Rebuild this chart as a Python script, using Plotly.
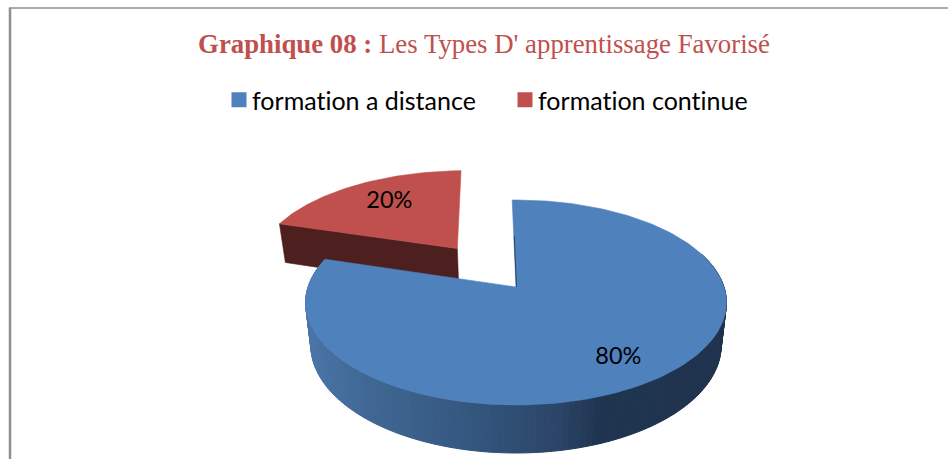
import math
import plotly.graph_objects as go

categories = ["formation a distance", "formation continue"]
shares = [80, 20]
labels = ["80%", "20%"]
colors = ["#4f81bd", "#c0504d"]
title_bold = "Graphique 08 :"
title_rest = "Les Types D' apprentissage Favorisé"

W, H = 948, 459
X0, R, TILT_C, TILT_A, Y0 = 516.0, 208.0, 0.151, -56.8, 287.0
START = -1.2
EXPLODE = 0.512
RED_NUDGE = 0.01
BOT_X, BOT_A, BOT_B = 0.975, 27.0, 1.052


def top(u, v):
    w = 1 + TILT_C * v
    return X0 + R * u / w, (TILT_A * v + Y0) / w


def bot(u, v):
    x, y = top(u, v)
    return X0 + (x - X0) * BOT_X, BOT_A + BOT_B * y


def rim(theta, off=(0.0, 0.0), rho=1.0):
    t = math.radians(theta)
    return off[0] + rho * math.sin(t), off[1] + rho * math.cos(t)


def poly(pts, color, lw=0.6):
    return go.Scatter(x=[p[0] for p in pts] + [pts[0][0]], y=[p[1] for p in pts] + [pts[0][1]],
                      mode="lines", fill="toself", fillcolor=color,
                      line=dict(color=color, width=lw), showlegend=False, hoverinfo="skip")


def side_color(x):
    stops = [(305, (0x4c, 0x76, 0xab)), (370, (0x41, 0x68, 0x95)), (470, (0x34, 0x58, 0x80)),
             (560, (0x2c, 0x45, 0x68)), (600, (0x20, 0x35, 0x50)), (730, (0x1f, 0x33, 0x4e))]
    for (a, ca), (b, cb) in zip(stops, stops[1:]):
        if x <= b:
            f = max(0, (x - a) / (b - a))
            return "rgb(%d,%d,%d)" % tuple(ca[i] + (cb[i] - ca[i]) * f for i in range(3))
    return "rgb(31,51,78)"


blue_span = shares[0] / sum(shares) * 360
red_span = shares[1] / sum(shares) * 360
blue_a, blue_b = START, START + blue_span
red_a, red_b = blue_b, blue_b + red_span
mid = math.radians((red_a + red_b) / 2)
off = (EXPLODE * math.sin(mid) + RED_NUDGE, EXPLODE * math.cos(mid))

fig = go.Figure()

# red slice: cut face, then top
tip = off
left = rim(red_a, off)
fig.add_trace(poly([top(*tip), top(*left), bot(*left), bot(*tip)], "#4d1f1e"))
arc = [top(*rim(red_a + red_span * i / 60, off)) for i in range(61)]
fig.add_trace(poly([top(*tip)] + arc, colors[1]))

# blue slice: outer wall strips, then top
N = 140
a0, a1 = 70.0, blue_b
for i in range(N):
    t0 = a0 + (a1 - a0) * i / N
    t1 = a0 + (a1 - a0) * (i + 1) / N
    p0, p1 = rim(t0), rim(t1)
    q = [top(*p0), top(*p1), bot(*p1), bot(*p0)]
    fig.add_trace(poly(q, side_color(bot(*p0)[0]), 1))
arc = [top(*rim(blue_a + blue_span * i / 200)) for i in range(201)]
fig.add_trace(poly([top(0, 0)] + arc, colors[0]))

# thin dark edge of the first cut
e0, e1 = top(*rim(blue_a, rho=0.55)), top(0, 0)
fig.add_trace(go.Scatter(x=[e0[0] + 0.5, e1[0] + 0.5], y=[e0[1], e1[1]], mode="lines",
                         line=dict(color="#2c4568", width=1), showlegend=False, hoverinfo="skip"))

# legend entries
for name, c in zip(categories, colors):
    fig.add_trace(go.Scatter(x=[None], y=[None], mode="markers", name=name,
                             marker=dict(symbol="square", size=15, color=c)))

# value labels
lab_blue = top(*rim(blue_a + blue_span * 0.509, rho=0.782))
lab_red = top(*rim(red_a + red_span * 0.527, off, rho=0.69))
fig.add_trace(go.Scatter(x=[lab_blue[0], lab_red[0]], y=[lab_blue[1], lab_red[1]], mode="text",
                         text=labels, textposition="middle center",
                         textfont=dict(family="Lato", size=23.5, color="#000000"),
                         showlegend=False, hoverinfo="skip"))

fig.update_layout(
    width=W, height=H, margin=dict(l=0, r=0, t=0, b=0), autosize=False,
    paper_bgcolor="white", plot_bgcolor="white",
    xaxis=dict(range=[0, W], visible=False, fixedrange=True),
    yaxis=dict(range=[H, 0], visible=False, fixedrange=True),
    title=dict(text=f"<b>{title_bold}</b> {title_rest}", x=484 / W, xanchor="center",
               y=1 - 44 / H, yanchor="middle",
               font=dict(family="Liberation Serif", size=26.8, color="#c0504d")),
    legend=dict(orientation="h", x=212 / W, xanchor="left", y=1 - 100 / H, yanchor="middle",
                entrywidth=241, entrywidthmode="pixels",
                font=dict(family="Lato", size=25, color="#000000"),
                bgcolor="rgba(0,0,0,0)"),
    shapes=[
        dict(type="line", xref="paper", yref="paper", x0=10 / W, x1=10 / W, y0=0, y1=1 - 8 / H,
             line=dict(color="#8f8f8f", width=2.5)),
        dict(type="line", xref="paper", yref="paper", x0=9 / W, x1=1, y0=1 - 8 / H, y1=1 - 8 / H,
             line=dict(color="#8f8f8f", width=1.5)),
    ],
)
page_fix = """
document.body.style.margin = '0';
document.body.style.overflow = 'hidden';
var st = document.createElement('style');
st.textContent = 'svg text { font-variant-ligatures: none !important; font-feature-settings: "liga" 0, "clig" 0, "dlig" 0 !important; }';
document.head.appendChild(st);
document.querySelectorAll('.legendsymbols').forEach(function (e) {
  e.setAttribute('transform', 'translate(7,0)');
});
"""
fig.write_html("out.html", config={"displayModeBar": False}, post_script=page_fix)
